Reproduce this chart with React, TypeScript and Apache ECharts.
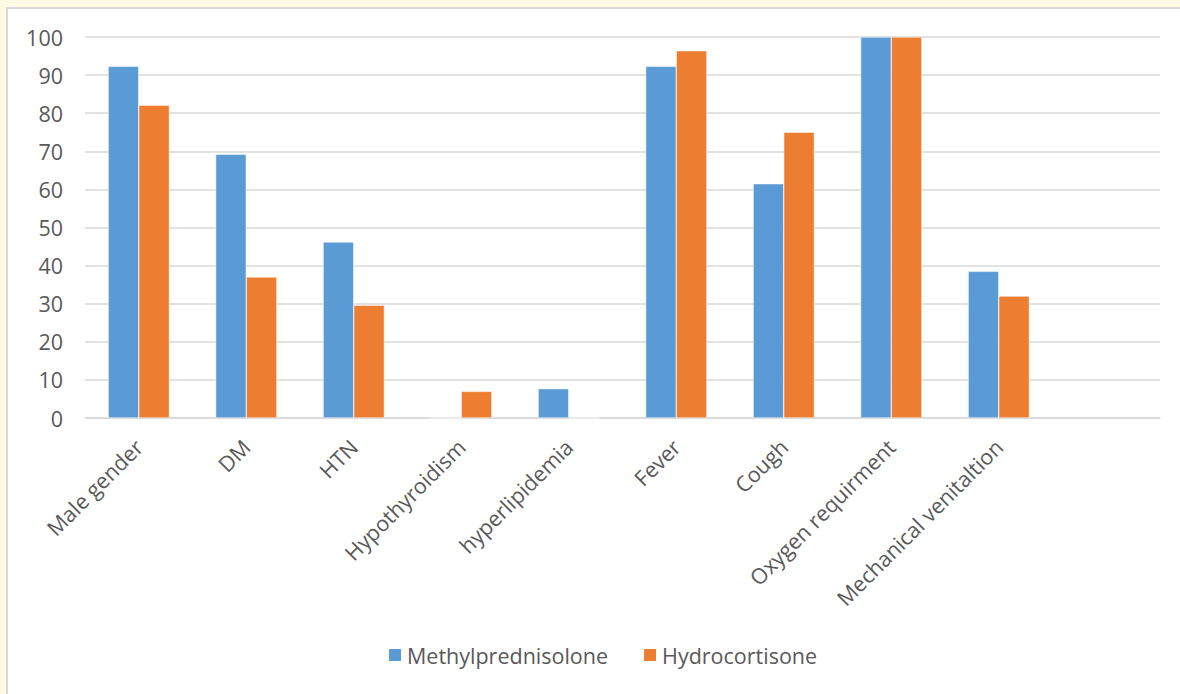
import React, { useEffect, useRef } from "react";
import * as echarts from "echarts";

const categories = [
  "Male gender",
  "DM",
  "HTN",
  "Hypothyroidism",
  "hyperlipidemia",
  "Fever",
  "Cough",
  "Oxygen requirment",
  "Mechanical venitaltion",
  "",
];
const methylprednisolone = [92.3, 69.2, 46.2, 0, 7.7, 92.3, 61.5, 100, 38.5, null];
const hydrocortisone = [82.1, 37.0, 29.6, 7.0, 0, 96.4, 75.0, 100, 32.0, null];
const seriesNames = ["Methylprednisolone", "Hydrocortisone"];
const colors = ["#5B9BD5", "#ED7D31"];

const FONT = "'Open Sans', Lato, sans-serif";
const FS = 21.5;

export default function App() {
  const ref = useRef<HTMLDivElement>(null);
  useEffect(() => {
    if (!ref.current) return;
    const chart = echarts.init(ref.current, null, { renderer: "svg" });
    chart.setOption({
      animation: false,
      textStyle: { fontFamily: FONT },
      grid: { left: 85, right: 20, top: 37, bottom: 276, containLabel: false },
      legend: {
        bottom: 23,
        left: 382,
        itemWidth: 14,
        itemHeight: 14,
        itemGap: 34,
        icon: "rect",
        textStyle: { fontFamily: FONT, fontSize: FS, color: "#595959" },
        data: seriesNames,
      },
      xAxis: {
        type: "category",
        data: categories,
        axisLine: { show: true, lineStyle: { color: "#d9d9d9", width: 1.5 } },
        axisTick: { show: false },
        axisLabel: {
          interval: 0,
          rotate: 45,
          margin: 25,
          fontFamily: FONT,
          fontSize: FS,
          color: "#595959",
        },
      },
      yAxis: {
        type: "value",
        min: 0,
        max: 100,
        interval: 10,
        axisLine: { show: false },
        axisTick: { show: false },
        splitLine: { lineStyle: { color: "#d9d9d9", width: 1.5 } },
        axisLabel: { margin: 22, fontFamily: FONT, fontSize: FS, color: "#595959" },
      },
      series: [
        {
          name: seriesNames[0],
          type: "bar",
          data: methylprednisolone,
          barGap: "0%",
          barCategoryGap: "43%",
          itemStyle: { color: colors[0], borderColor: "#ffffff", borderWidth: 0.5 },
        },
        {
          name: seriesNames[1],
          type: "bar",
          data: hydrocortisone,
          barGap: "0%",
          barCategoryGap: "43%",
          itemStyle: { color: colors[1], borderColor: "#ffffff", borderWidth: 0.5 },
        },
      ],
    });
    return () => chart.dispose();
  }, []);

  return (
    <div
      style={{
        position: "fixed",
        left: 0,
        top: 0,
        width: 1180,
        height: 694,
        background: "#FFFAE6",
        overflow: "hidden",
      }}
    >
      <div
        style={{
          position: "absolute",
          left: 6,
          top: 7,
          width: 1200,
          height: 720,
          background: "#ffffff",
          borderLeft: "2px solid #d9d9d9",
          borderTop: "2px solid #d9d9d9",
        }}
      />
      <div
        ref={ref}
        style={{ position: "absolute", left: 0, top: 0, width: 1180, height: 694 }}
      />
    </div>
  );
}
